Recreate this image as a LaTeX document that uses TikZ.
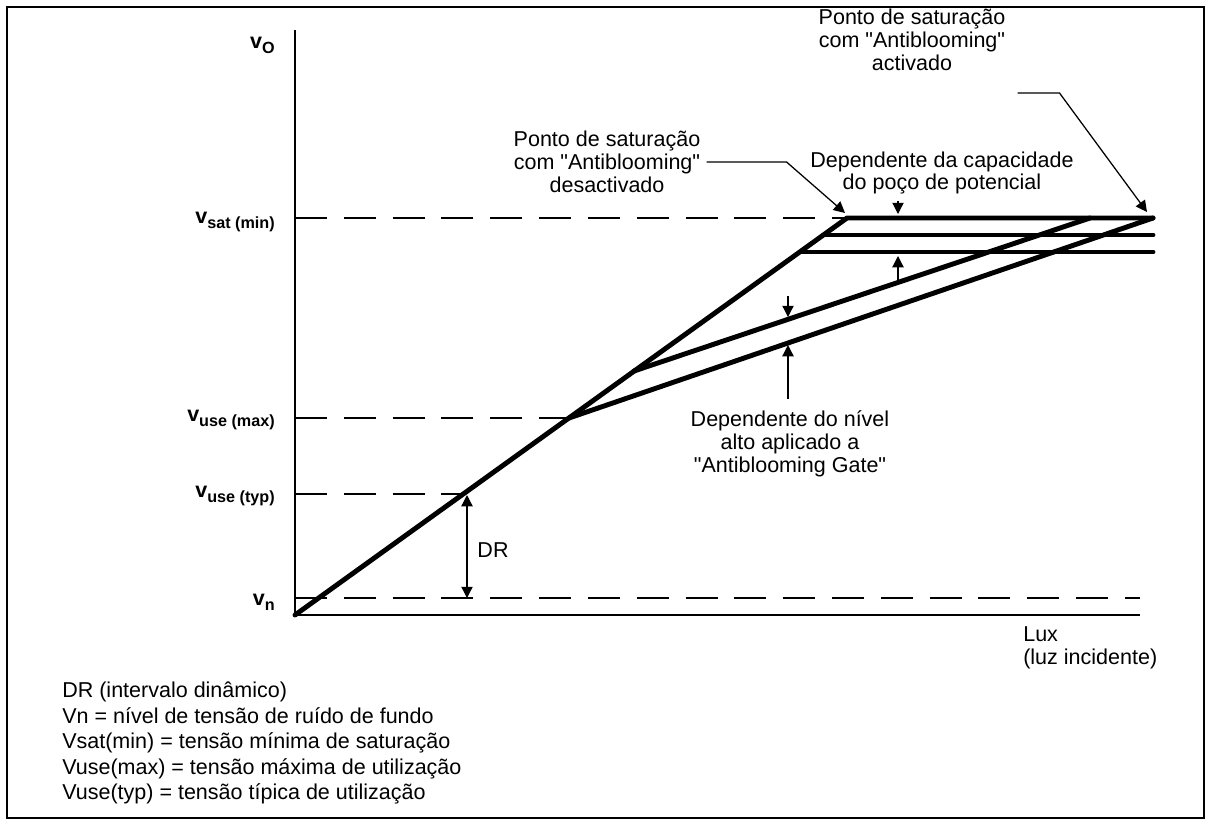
\documentclass[tikz,border=0pt]{standalone}
\usepackage{fontspec}
\setmainfont{Liberation Sans}
\usepackage{tikz}
\usetikzlibrary{arrows.meta}
\usetikzlibrary{positioning}
\usetikzlibrary{calc}

\newcommand{\texto}{\fontsize{15.3}{16.3}\selectfont}
\newcommand{\tens}[1]{\textbf{v\raisebox{-0.45ex}{\fontsize{11.5}{11.5}\selectfont #1}}}
\newcommand{\aspas}{\textquotedbl}

\begin{document}
\begin{tikzpicture}[x=0.025cm, y=-0.025cm,
  every node/.style={inner sep=0pt, font=\texto},
  curva/.style={line width=3.5pt, line join=round, line cap=round},
  guia/.style={line width=1.1pt, dash pattern=on 0.8cm off 0.42cm},
  seta/.style={line width=0.9pt, -{Triangle[length=8pt,width=8pt]}},
  rotulo/.style={anchor=east}]
\useasboundingbox (0,0) rectangle (1212,824);
\draw[line width=1.2pt] (7,7) rectangle (1204,818);

% eixos
\coordinate (O) at (295,615);
\draw[line width=1.1pt] (295,30) -- (O) -- (1140,615);

% pontos da curva
\coordinate (S) at (847,218);
\coordinate (K) at (569,418);
\coordinate (T) at (463,494);
\coordinate (B) at (634,371);
\coordinate (F) at (1090,218);
\coordinate (E) at (1153,218);

% linhas de referencia
\draw[guia] (295,218) -- (S);
\draw[guia] (295,418) -- (K);
\draw[guia] (295,494) -- (T);
\draw[guia] (295,598) -- (1140,598);

\node[rotulo] (vo) at (275,45) {\tens{O}};
\node[rotulo] (vsat) at (275,222) {\tens{sat (min)}};
\node[rotulo] (vmax) at (275,420) {\tens{use (max)}};
\node[rotulo] (vtyp) at (275,496) {\tens{use (typ)}};
\node[rotulo] (vn) at (275,602) {\tens{n}};

% curva de resposta
\draw[curva] (O) -- (S) -- (E);
\draw[curva] (823,235) -- (1153,235);
\draw[curva] (800,252) -- (1153,252);
\draw[curva] (B) -- (F);
\draw[curva] (K) -- (E);

% DR
\draw[line width=0.9pt, {Triangle[length=8pt,width=8pt]}-{Triangle[length=8pt,width=8pt]}] (467,495) -- (467,598);
\node (dr) at (493,550) {DR};

% anotacoes
\node[align=center] (act) at (912,40) {Ponto de saturação\\com \aspas Antiblooming\aspas\\activado};
\draw[seta] (act.south east) ++(12,22) -- ++(42,0) -- (1147,212);

\node[align=center] (desac) at (607,162) {Ponto de saturação\\com \aspas Antiblooming\aspas\\desactivado};
\draw[seta] (desac.east) ++(6,0) -- ++(80,0) -- (845,213);

\node[align=center] (cap) at (942,173) {Dependente da capacidade\\do poço de potencial};
\coordinate (c1) at (898,214);
\coordinate (c2) at (898,256);
\draw[seta] (cap.south -| c1) ++(0,6) -- (c1);
\draw[seta] (898,284) -- (c2);

\node[align=center] (niv) at (790,444) {Dependente do nível\\alto aplicado a\\\aspas Antiblooming Gate\aspas};
\coordinate (n1) at (788,317);
\coordinate (n2) at (788,345);
\draw[seta] (788,296) -- (n1);
\draw[seta] (niv.north -| n2) ++(0,-12) -- (n2);

\node[align=left, anchor=north west] (lux) at (1023,626) {Lux\\(luz incidente)};

\node[align=left, anchor=north west, font=\fontsize{15.3}{18.1}\selectfont] (legenda) at (62,682)
  {DR (intervalo dinâmico)\\
   Vn = nível de tensão de ruído de fundo\\
   Vsat(min) = tensão mínima de saturação\\
   Vuse(max) = tensão máxima de utilização\\
   Vuse(typ) = tensão típica de utilização};
\end{tikzpicture}
\end{document}
